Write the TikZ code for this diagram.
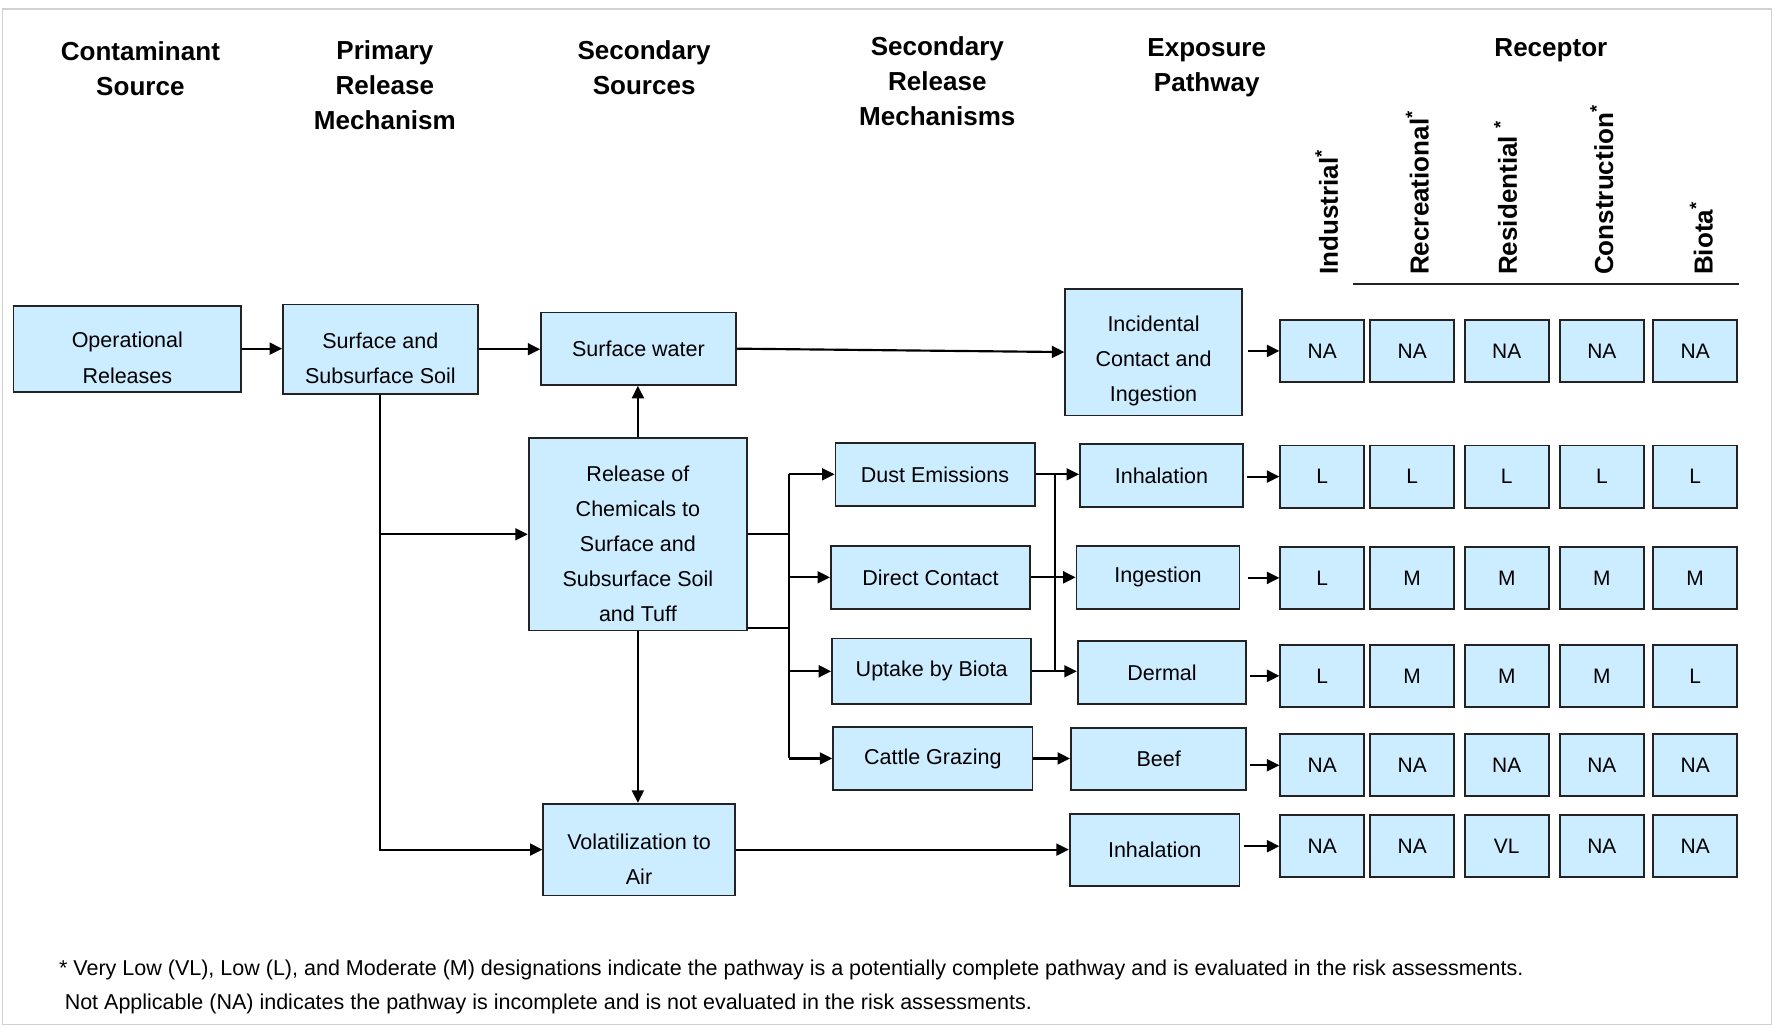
\documentclass[tikz,border=0pt]{standalone}
\usepackage{fontspec}
\setmainfont{Liberation Sans}
\usetikzlibrary{arrows.meta,calc}
\definecolor{boxfill}{RGB}{204,236,255}
\definecolor{boxline}{RGB}{35,35,35}
\newcommand\tstrut{\rule{0pt}{30pt}}
\newcommand\mybox[6]{\node[box, minimum width=#4pt, minimum height=#5pt] (#1) at (#2,#3) {#6};}
\newcommand\recrow[7]{%
  \node[rec] (r#1a) at (1168,#2) {#3};
  \node[rec] (r#1b) at (1247.5,#2) {#4};
  \node[rec] (r#1c) at (1331,#2) {#5};
  \node[rec] (r#1d) at (1415,#2) {#6};
  \node[rec] (r#1e) at (1497.5,#2) {#7};}
\begin{document}
\begin{tikzpicture}[x=1pt,y=-1pt,
  box/.style={draw=boxline, fill=boxfill, line width=1.6pt, inner sep=0pt, align=center,
    font=\fontsize{19}{31}\selectfont},
  rec/.style={box, minimum width=74pt, minimum height=55pt, font=\fontsize{18.5}{31}\selectfont},
  hdr/.style={font=\bfseries\fontsize{23}{31}\selectfont, align=center, inner sep=0pt},
  rhdr/.style={hdr, rotate=90, anchor=west},
  line/.style={line width=1.9pt},
  arr/.style={line width=1.9pt, -{Triangle[length=11pt,width=10.5pt]}},
  fnote/.style={anchor=west, inner sep=0pt, font=\fontsize{19}{22}\selectfont}
]
\useasboundingbox (0,0) rectangle (1568,908);
\draw[black!18, line width=1pt] (2,8) rectangle (1565,905);

% headers
\node[hdr] (hC) at (124,60.5) {Contaminant\\Source};
\node[hdr] (hP) at (340,75) {Primary\\Release\\Mechanism};
\node[hdr] (hS) at (569,59.5) {Secondary\\Sources};
\node[hdr] (hSR) at (828,72) {Secondary\\Release\\Mechanisms};
\node[hdr] (hE) at (1066,60) {Exposure\\Pathway};
\node[hdr] (hR) at (1370,44) {Receptor};
\node[rhdr] (cI) at (1172,243) {Industrial\textsuperscript{*}};
\node[rhdr] (cR) at (1252,243) {Recreational\textsuperscript{*}};
\node[rhdr] (cRe) at (1330,243) {Residential \textsuperscript{*}};
\node[rhdr] (cC) at (1415,243) {Construction\textsuperscript{*}};
\node[rhdr] (cB) at (1503,243) {Biota\textsuperscript{*}};
\draw[boxline, line width=2pt] (1195,251) -- (1536,251);

% boxes
\mybox{op}{112.5}{308}{201}{76}{\tstrut Operational\\Releases}
\mybox{soil}{336}{308.5}{172}{79}{\tstrut Surface and\\Subsurface Soil}
\mybox{sw}{564}{308}{172}{64}{Surface water}
\mybox{rel}{563.5}{472}{193}{170}{\tstrut Release of\\Chemicals to\\Surface and\\Subsurface Soil\\and Tuff}
\mybox{vol}{564.5}{750.5}{169}{81}{\tstrut Volatilization to\\Air}
\mybox{dust}{826}{419}{176}{56}{Dust Emissions}
\mybox{dc}{822}{510}{176}{56}{Direct Contact}
\mybox{up}{823}{593}{176}{58}{Uptake by Biota}
\mybox{cat}{824}{670}{176}{56}{Cattle Grazing}
\mybox{inc}{1019}{311}{156}{112}{\tstrut Incidental\\Contact and\\Ingestion}
\mybox{inh1}{1026}{420}{144}{56}{Inhalation}
\mybox{ing}{1023}{510}{144}{56}{Ingestion}
\mybox{der}{1026.5}{594}{149}{56}{Dermal}
\mybox{beef}{1023.5}{670.5}{155}{55}{Beef}
\mybox{inh2}{1020}{751}{150}{64}{Inhalation}

% receptor grid
\recrow{1}{310}{NA}{NA}{NA}{NA}{NA}
\recrow{2}{421}{L}{L}{L}{L}{L}
\recrow{3}{510.5}{L}{M}{M}{M}{M}
\recrow{4}{597}{L}{M}{M}{M}{L}
\recrow{5}{676}{NA}{NA}{NA}{NA}{NA}
\recrow{6}{747.5}{NA}{NA}{VL}{NA}{NA}

% connectors
\draw[arr] (op.east) -- (op.east -| soil.west);
\draw[arr] (soil.east) -- (soil.east -| sw.west);
\draw[arr] (sw.east) -- (inc.west);
\draw[arr] (rel.north) -- (rel.north |- sw.south);
\draw[arr] (soil.south) |- (vol.west);
\draw[arr] (soil.south |- rel.west) -- (rel.west);
\draw[arr] (rel.south) -- (rel.south |- vol.north);
\draw[arr] (vol.east) -- (vol.east -| inh2.west);

\coordinate (bus) at (697,0);
\draw[line] (rel.east) -- (rel.east -| bus);
\draw[line] ([yshift=3pt]rel.south east) -- ([yshift=3pt]rel.south east -| bus);
\draw[line] (bus |- dust.west) -- (bus |- cat.west);
\draw[arr] (bus |- dust.west) -- (dust.west);
\draw[arr] (bus |- dc.west) -- (dc.west);
\draw[arr] (bus |- up.west) -- (up.west);
\draw[arr] (bus |- cat.west) -- (cat.west);

\coordinate (bus2) at (932,0);
\draw[line] (bus2 |- dust.east) -- (bus2 |- up.east);
\draw[arr] (dust.east) -- (dust.east -| inh1.west);
\draw[arr] (dc.east) -- (dc.east -| ing.west);
\draw[arr] (up.east) -- (up.east -| der.west);
\draw[arr] (cat.east) -- (cat.east -| beef.west);

\draw[arr, shorten <=5pt] (inc.east |- r1a.west) -- (r1a.west);
\draw[arr, shorten <=3pt] (inh1.east |- r2a.west) -- (r2a.west);
\draw[arr, shorten <=7pt] (ing.east |- r3a.west) -- (r3a.west);
\draw[arr, shorten <=2pt] (der.east |- r4a.west) -- (r4a.west);
\draw[arr, shorten <=2pt] (beef.east |- r5a.west) -- (r5a.west);
\draw[arr, shorten <=3pt] (inh2.east |- r6a.west) -- (r6a.west);

% footnote
\node[fnote] (fn1) at (52,857) {* Very Low (VL), Low (L), and Moderate (M) designations indicate the pathway is a potentially complete pathway and is evaluated in the risk assessments.};
\node[fnote] (fn2) at (57,887) {Not Applicable (NA) indicates the pathway is incomplete and is not evaluated in the risk assessments.};
\end{tikzpicture}
\end{document}
